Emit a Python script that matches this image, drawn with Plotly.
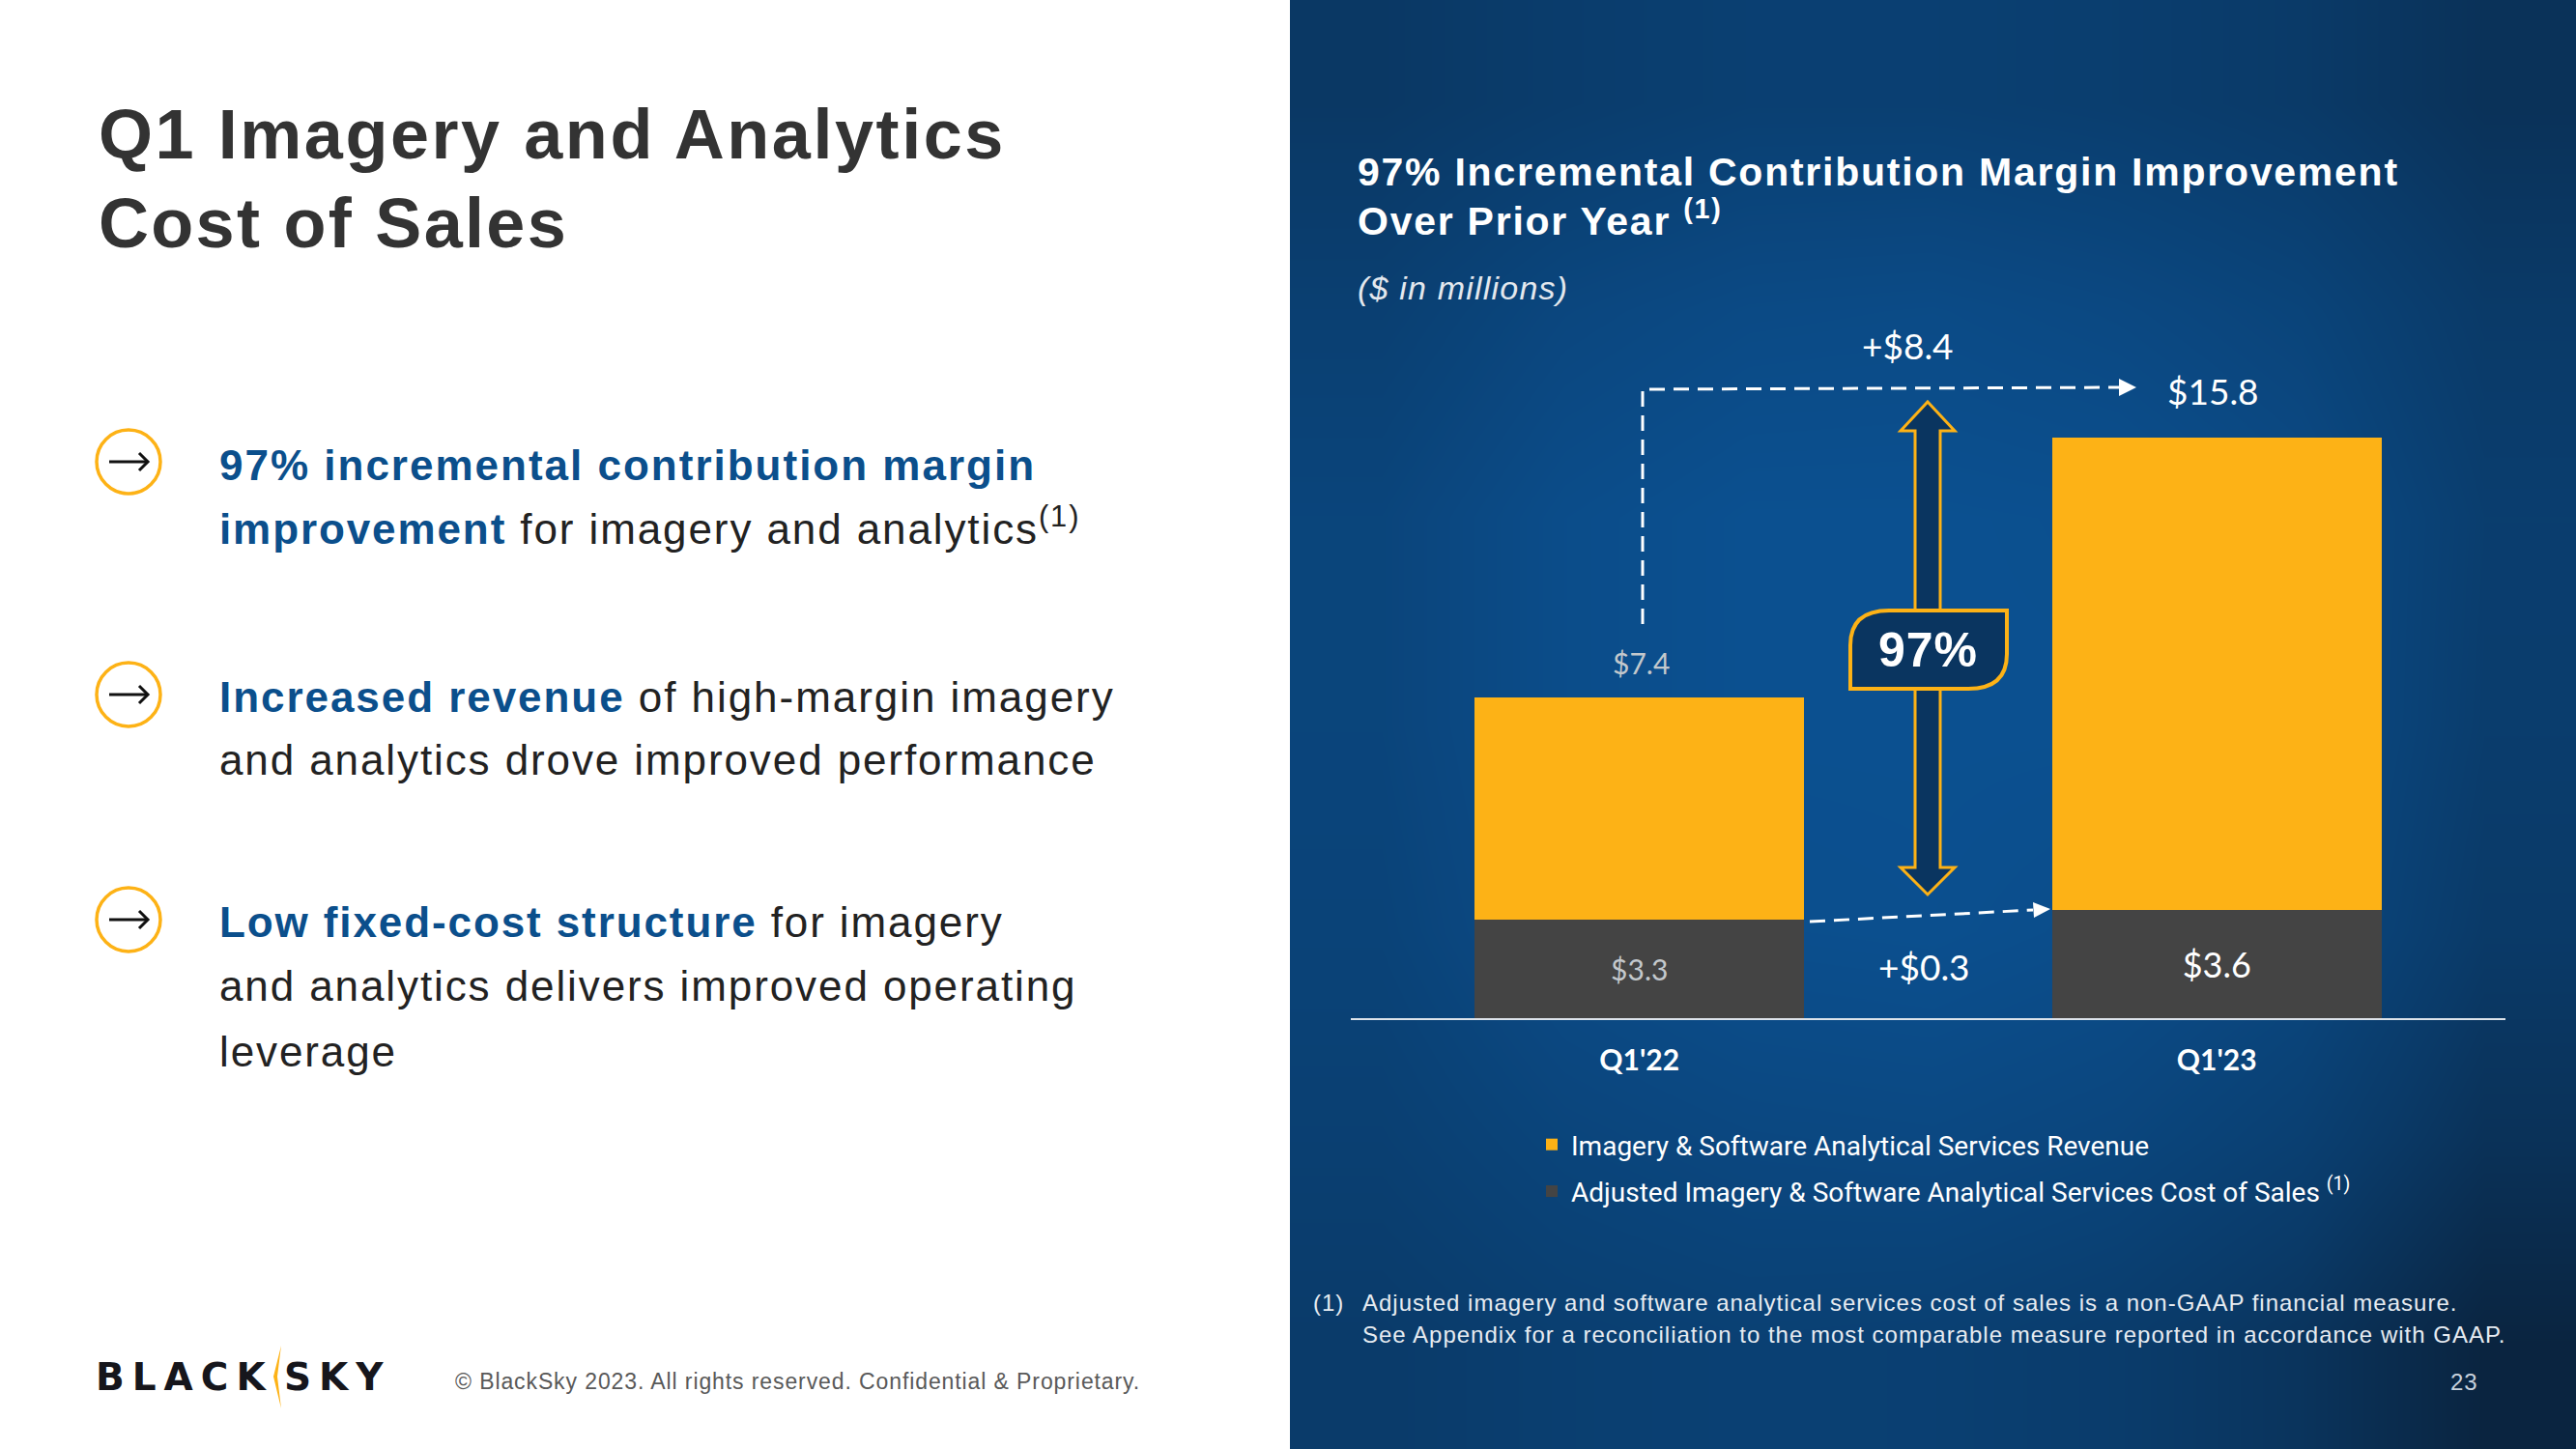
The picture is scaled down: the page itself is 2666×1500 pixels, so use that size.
import plotly.graph_objects as go

W, H = 2666, 1500
categories = ["Q1'22", "Q1'23"]
revenue = [7.4, 15.8]
cost = [3.3, 3.6]
cost_labels = ["$3.3", "$3.6"]
revenue_labels = ["$7.4", "$15.8"]
panel_brightness = [
    [0.46, 0.55, 0.62, 0.62, 0.58, 0.50, 0.34],
    [0.62, 0.78, 0.86, 0.88, 0.82, 0.72, 0.50],
    [0.74, 0.92, 1.00, 1.00, 0.98, 0.86, 0.58],
    [0.74, 0.92, 1.00, 1.00, 1.00, 0.86, 0.56],
    [0.70, 0.88, 0.96, 0.98, 0.92, 0.80, 0.50],
    [0.62, 0.74, 0.80, 0.82, 0.76, 0.62, 0.34],
    [0.52, 0.60, 0.64, 0.62, 0.54, 0.38, 0.08],
]
legend_names = ["Imagery &amp; Software Analytical Services Revenue",
                'Adjusted Imagery &amp; Software Analytical Services Cost of Sales '
                '<sup style="font-size:15px">(1)</sup>']

ORANGE = "#FDB216"
DARK = "#444444"
NAVY = "#0A3560"
BLUE = "#0B4F8C"
BODY = "#222222"
SANS = "Liberation Sans"


def X(p):
    return p / W


def Y(p):
    return 1 - p / H


fig = go.Figure()
fig.add_trace(go.Heatmap(z=panel_brightness, zsmooth="best", showscale=False, hoverinfo="skip",
                         colorscale=[[0, "#0A2038"], [0.5, "#0A3A68"], [1, "#0B5090"]],
                         zmin=0, zmax=1, xaxis="x", yaxis="y"))
fig.add_trace(go.Bar(x=categories, y=cost, name=legend_names[1], marker=dict(color=DARK, line_width=0),
                     text=cost_labels, textposition="inside", insidetextanchor="middle", textangle=0,
                     textfont=dict(family="Lato", size=[30, 36], color=["#C3C8CC", "#FFFFFF"]),
                     xaxis="x2", yaxis="y2", legendgroup="cost", legendrank=2, hoverinfo="skip"))
fig.add_trace(go.Bar(x=categories, y=revenue, name=legend_names[0], marker=dict(color=ORANGE, line_width=0),
                     xaxis="x2", yaxis="y2", legendgroup="revenue", legendrank=1, hoverinfo="skip"))

anns = []


def T(x, y, text, size, color, ls=0.0, family=SANS, anchor="left"):
    body = f'<span style="letter-spacing:{ls}px">{text}</span>' if ls else text
    anns.append(dict(x=X(x), y=Y(y), xref="paper", yref="paper", text=body, showarrow=False,
                     xanchor=anchor, yanchor="middle",
                     font=dict(family=family, size=size, color=color)))


def b(s):
    return f'<b><span style="color:{BLUE}">{s}</span></b>'


# left column
T(100, 139, "<b>Q1 Imagery and Analytics</b>", 72, "#333333", 2.55)
T(100, 231, "<b>Cost of Sales</b>", 72, "#333333", 2.3)
T(225, 481, b("97% incremental contribution margin"), 44, BODY, 2.0)
T(225, 544, b("improvement") + ' for imagery and analytics<sup style="font-size:27px">(1)</sup>', 44, BODY, 1.9)
T(225, 721, b("Increased revenue") + " of high-margin imagery", 44, BODY, 1.95)
T(225, 787, "and analytics drove improved performance", 44, BODY, 1.9)
T(225, 954, b("Low fixed-cost structure") + " for imagery", 44, BODY, 1.9)
T(225, 1020, "and analytics delivers improved operating", 44, BODY, 1.9)
T(225, 1088, "leverage", 44, BODY, 1.9)
T(469, 1430, "© BlackSky 2023. All rights reserved. Confidential &amp; Proprietary.", 23, "#595959", 0.9)
T(97, 1425, "<b>BLACK</b>", 39, "#16161C", 8.0, family="DejaVu Sans")
T(292, 1425, "<b>SKY</b>", 39, "#16161C", 8.0, family="DejaVu Sans")

# right panel
T(1403, 178, "<b>97% Incremental Contribution Margin Improvement</b>", 41, "#FFFFFF", 1.75)
T(1403, 226, '<b>Over Prior Year </b><sup style="font-size:24px"><b>(1)</b></sup>', 41, "#FFFFFF", 1.75)
T(1403, 298, "<i>($ in millions)</i>", 34, "#E3E8EE", 1.2)
T(1974, 357, "+$8.4", 37, "#FFFFFF", family="Lato", anchor="center")
T(1991, 1000, "+$0.3", 37, "#FFFFFF", family="Lato", anchor="center")
T(1996, 673, "<b>97%</b>", 50, "#FFFFFF", 1.0, anchor="center")
T(1357, 1348, "(1)", 24, "#E6EBF1", 1.0)
T(1408, 1348, "Adjusted imagery and software analytical services cost of sales is a non-GAAP financial measure.",
  24, "#E6EBF1", 1.0)
T(1408, 1381, "See Appendix for a reconciliation to the most comparable measure reported in accordance with GAAP.",
  24, "#E6EBF1", 1.0)
T(2550, 1430, "23", 24, "#C8D2DD", 1.0, anchor="center")

# bar-top labels tied to the bar values
for i, (cat, r, c, lab) in enumerate(zip(categories, revenue, cost, revenue_labels)):
    anns.append(dict(x=cat, y=r + c, xref="x2", yref="y2", text=lab, showarrow=False, yanchor="middle",
                     xanchor="center", yshift=[36, 48][i], xshift=[2, -4][i],
                     font=dict(family="Lato", size=[30, 37][i], color=["#C3C8CC", "#FFFFFF"][i])))

shapes = []


def path(d, fill=None, color=None, width=0, dash=None):
    shapes.append(dict(type="path", path=d, xref="paper", yref="paper", layer="above",
                       fillcolor=fill if fill else "rgba(0,0,0,0)",
                       line=dict(color=color if color else "rgba(0,0,0,0)", width=width,
                                 dash=dash if dash else "solid")))


def pts(*p, close=False):
    s = "M" + " L".join(f"{X(a):.5f},{Y(c):.5f}" for a, c in p)
    return s + (" Z" if close else "")


# bullets
for cy in (478, 719, 952):
    shapes.append(dict(type="circle", xref="paper", yref="paper", layer="above",
                       x0=X(100), x1=X(166), y0=Y(cy - 33), y1=Y(cy + 33),
                       line=dict(color=ORANGE, width=3.5)))
    path(pts((113, cy), (153, cy)), color="#111111", width=3)
    path(pts((144, cy - 9), (153, cy), (144, cy + 9)), color="#111111", width=3)

# logo crescent
path(pts((291, 1393), (283, 1425), (291, 1458), (287, 1425), close=True), fill=ORANGE)

# dashed connectors
dash = "16px,9px"
path(pts((1700, 646), (1700, 403), (2193, 401)), color="#FFFFFF", width=3, dash=dash)
path(pts((2193, 392), (2211, 401), (2193, 410), close=True), fill="#FFFFFF")
path(pts((1873, 954), (2104, 942)), color="#FFFFFF", width=3, dash=dash)
path(pts((2104, 934), (2122, 941), (2105, 950), close=True), fill="#FFFFFF")

# double arrow and badge
cx = 1995
path(pts((cx, 416), (cx + 28, 446), (cx + 13, 446), (cx + 13, 898), (cx + 28, 898), (cx, 926),
         (cx - 28, 898), (cx - 13, 898), (cx - 13, 446), (cx - 28, 446), close=True),
     fill=NAVY, color=ORANGE, width=3)
l, r_, t, bt = X(1915), X(2077), Y(632), Y(713)
path(f"M{l:.5f},{bt:.5f} L{l:.5f},{Y(668):.5f} Q{l:.5f},{t:.5f} {X(1955):.5f},{t:.5f} L{r_:.5f},{t:.5f} "
     f"L{r_:.5f},{Y(677):.5f} Q{r_:.5f},{bt:.5f} {X(2037):.5f},{bt:.5f} Z",
     fill=NAVY, color=ORANGE, width=4)

fig.update_layout(
    width=W, height=H, margin=dict(l=0, r=0, t=0, b=0), paper_bgcolor="#FFFFFF", plot_bgcolor="rgba(0,0,0,0)",
    barmode="stack", bargap=0.43, annotations=anns, shapes=shapes,
    xaxis=dict(domain=[X(1335), 1], visible=False, fixedrange=True, constrain="domain"),
    yaxis=dict(domain=[0, 1], visible=False, autorange="reversed", fixedrange=True),
    xaxis2=dict(domain=[X(1398), X(2593)], anchor="y2", type="category", range=[-0.5, 1.5], showgrid=False,
                showline=True, linecolor="#DDE3EA", linewidth=2, ticks="", ticklabelstandoff=16,
                tickfont=dict(family="Lato", size=30, color="#FFFFFF", weight="bold")),
    yaxis2=dict(domain=[Y(1054), Y(400)], anchor="x2", range=[0, 21.1], visible=False),
    legend=dict(x=X(1586), y=Y(1160), xanchor="left", yanchor="top", bgcolor="rgba(0,0,0,0)",
                traceorder="grouped", tracegroupgap=9,
                font=dict(family="Roboto", size=28, color="#FFFFFF")),
    showlegend=True,
)

fig.write_html("out.html", post_script="document.body.style.margin='0';", config=dict(displayModeBar=False))
